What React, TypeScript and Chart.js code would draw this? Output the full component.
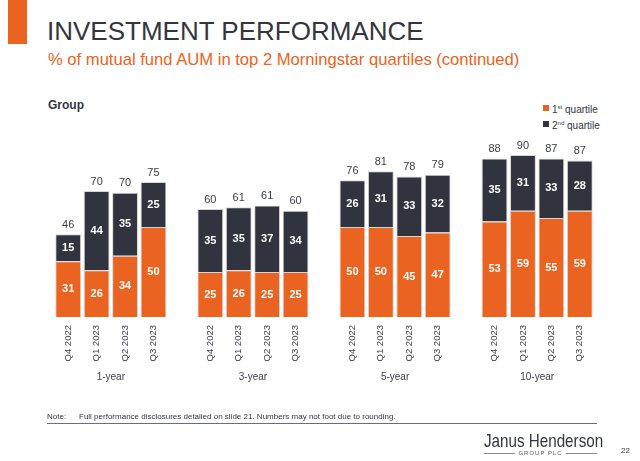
import React, { useEffect, useRef } from "react";
import { Chart, registerables } from "chart.js";

Chart.register(...registerables);

const categories = [
  "Q4 2022", "Q1 2023", "Q2 2023", "Q3 2023", "",
  "Q4 2022", "Q1 2023", "Q2 2023", "Q3 2023", "",
  "Q4 2022", "Q1 2023", "Q2 2023", "Q3 2023", "",
  "Q4 2022", "Q1 2023", "Q2 2023", "Q3 2023",
];
const groupLabels = ["1-year", "3-year", "5-year", "10-year"];
const firstQuartile = [31, 26, 34, 50, null, 25, 26, 25, 25, null, 50, 50, 45, 47, null, 53, 59, 55, 59];
const secondQuartile = [15, 44, 35, 25, null, 35, 35, 37, 34, null, 26, 31, 33, 32, null, 35, 31, 33, 28];
const totals = [46, 70, 70, 75, null, 60, 61, 61, 60, null, 76, 81, 78, 79, null, 88, 90, 87, 87];

const ORANGE = "#EA6320";
const DARK = "#31343E";
const FONT = "'Liberation Sans', Arial, sans-serif";

const labelPlugin = {
  id: "barLabels",
  afterDatasetsDraw(chart: any) {
    const ctx = chart.ctx;
    ctx.save();
    ctx.textAlign = "center";
    ctx.textBaseline = "middle";
    ctx.font = `bold 11px ${FONT}`;
    ctx.fillStyle = "#ffffff";
    chart.data.datasets.forEach((ds: any, di: number) => {
      const meta = chart.getDatasetMeta(di);
      meta.data.forEach((bar: any, i: number) => {
        const v = ds.data[i];
        if (v == null) return;
        const cy = (bar.y + bar.base) / 2;
        ctx.fillText(String(v), bar.x, cy);
      });
    });
    const topMeta = chart.getDatasetMeta(1);
    ctx.font = `11px ${FONT}`;
    ctx.fillStyle = "#3a3d45";
    ctx.textBaseline = "bottom";
    topMeta.data.forEach((bar: any, i: number) => {
      const t = totals[i];
      if (t == null) return;
      ctx.fillText(String(t), bar.x, bar.y - 4);
    });
    const xs = chart.scales.x;
    ctx.font = `10px ${FONT}`;
    ctx.fillStyle = "#3a3d45";
    ctx.textBaseline = "middle";
    groupLabels.forEach((g, gi) => {
      const a = xs.getPixelForValue(gi * 5);
      const b = xs.getPixelForValue(gi * 5 + 3);
      ctx.fillText(g, (a + b) / 2, 377);
    });
    ctx.restore();
  },
};

function ChartCanvas() {
  const ref = useRef<HTMLCanvasElement | null>(null);
  useEffect(() => {
    if (!ref.current) return;
    const chart = new Chart(ref.current, {
      type: "bar",
      data: {
        labels: categories,
        datasets: [
          {
            label: "1st quartile",
            data: firstQuartile as any,
            backgroundColor: ORANGE,
            borderColor: "#d6d6d6",
            borderWidth: 1,
          },
          {
            label: "2nd quartile",
            data: secondQuartile as any,
            backgroundColor: DARK,
            borderColor: "#d6d6d6",
            borderWidth: 1,
          },
        ],
      },
      options: {
        animation: false,
        responsive: false,
        maintainAspectRatio: false,
        devicePixelRatio: 1,
        layout: { padding: { left: 54, right: 46, top: 137, bottom: 84 } },
        datasets: { bar: { categoryPercentage: 1, barPercentage: 0.91 } },
        plugins: { legend: { display: false }, tooltip: { enabled: false } },
        scales: {
          x: {
            stacked: true,
            grid: { display: false, drawTicks: false, tickLength: 0 },
            border: { display: false },
            ticks: {
              autoSkip: false,
              minRotation: 90,
              maxRotation: 90,
              padding: 8,
              color: "#3a3d45",
              font: { family: FONT, size: 9.5 },
            },
            afterFit: (scale: any) => {
              scale.height = 60;
            },
          },
          y: {
            stacked: true,
            display: false,
            min: 0,
            max: 100,
          },
        },
      },
      plugins: [labelPlugin],
    });
    return () => chart.destroy();
  }, []);
  return (
    <canvas
      ref={ref}
      width={640}
      height={461}
      style={{ position: "absolute", left: 0, top: 0, width: 640, height: 461 }}
    />
  );
}

export default function App() {
  const text: React.CSSProperties = { position: "absolute", whiteSpace: "nowrap", fontFamily: FONT };
  return (
    <div style={{ position: "absolute", left: 0, top: 0, width: 640, height: 461, background: "#fff", overflow: "hidden" }}>
      <div style={{ position: "absolute", left: 8, top: 0, width: 19, height: 44, background: ORANGE }} />
      <div style={{ ...text, left: 47, top: 16, fontSize: 26, color: "#33363f", lineHeight: "30px" }}>
        INVESTMENT PERFORMANCE
      </div>
      <div style={{ ...text, left: 48, top: 50, fontSize: 16.6, color: ORANGE, lineHeight: "20px" }}>
        % of mutual fund AUM in top 2 Morningstar quartiles (continued)
      </div>
      <div style={{ ...text, left: 48, top: 98, fontSize: 12, fontWeight: "bold", color: "#33363f", lineHeight: "14px" }}>
        Group
      </div>
      <div style={{ ...text, left: 543, top: 100, fontSize: 10, color: "#33363f", lineHeight: "12px" }}>
        <div style={{ display: "flex", alignItems: "center", height: 16 }}>
          <span style={{ display: "inline-block", width: 6, height: 6, background: ORANGE, marginRight: 3 }} />
          <span>1<sup style={{ fontSize: 6, verticalAlign: "4px" }}>st</sup> quartile</span>
        </div>
        <div style={{ display: "flex", alignItems: "center", height: 16 }}>
          <span style={{ display: "inline-block", width: 6, height: 6, background: DARK, marginRight: 3 }} />
          <span>2<sup style={{ fontSize: 6, verticalAlign: "4px" }}>nd</sup> quartile</span>
        </div>
      </div>
      <ChartCanvas />
      <div style={{ ...text, left: 47, top: 412, fontSize: 8, color: "#33363f", lineHeight: "10px" }}>Note:</div>
      <div style={{ ...text, left: 79, top: 412, fontSize: 8, color: "#33363f", lineHeight: "10px" }}>
        Full performance disclosures detailed on slide 21. Numbers may not foot due to rounding.
      </div>
      <div style={{ position: "absolute", left: 47, top: 423, width: 550, height: 1, background: "#6b6e75" }} />
      <div style={{ ...text, left: 484, top: 430, fontSize: 19, color: "#33363f", lineHeight: "22px", transform: "scaleX(0.8)", transformOrigin: "0 0" }}>
        Janus Henderson
      </div>
      <div style={{ position: "absolute", left: 484, top: 449, width: 113, display: "flex", alignItems: "center" }}>
        <div style={{ flex: 1, height: 1, background: "#8a8c92" }} />
        <div style={{ fontFamily: FONT, fontSize: 6, color: "#55585f", letterSpacing: 1, padding: "0 3px", lineHeight: "8px" }}>GROUP PLC</div>
        <div style={{ flex: 1, height: 1, background: "#8a8c92" }} />
      </div>
      <div style={{ ...text, left: 621, top: 446, fontSize: 8, color: "#33363f", lineHeight: "10px" }}>22</div>
    </div>
  );
}
